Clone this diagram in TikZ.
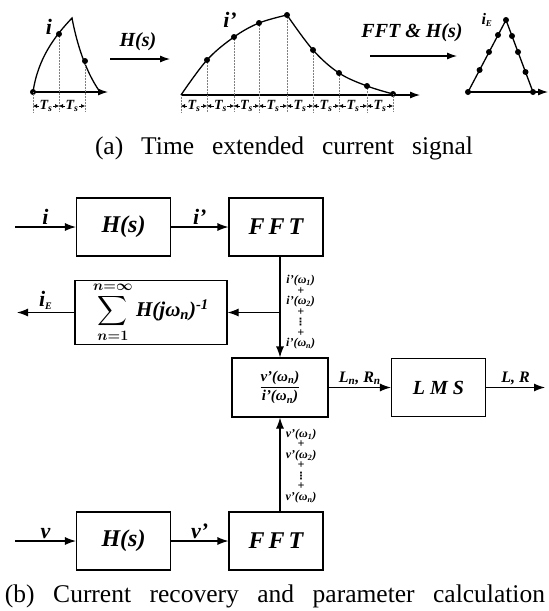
\documentclass[tikz,border=0pt]{standalone}
\usepackage{amsmath}
\usepackage{fontspec}
\setmainfont{Liberation Serif}
\newfontfamily\symfont{DejaVu Sans}
\usetikzlibrary{arrows.meta,positioning,calc}

\begin{document}
\begin{tikzpicture}[
    x=1pt, y=-1pt,
    blk/.style={draw, line width=1.1pt, minimum width=94pt, minimum height=58pt, inner sep=2pt, font=\fontsize{24}{28}\selectfont\bfseries\itshape},
    sig/.style={font=\fontsize{22}{24}\selectfont\bfseries\itshape, inner sep=2pt},
    lbl/.style={font=\fontsize{16}{18}\selectfont\bfseries\itshape, inner sep=2pt},
    flow/.style={-{Latex[length=11pt,width=8pt]}, line width=1.1pt},
    axis/.style={-{Latex[length=10pt,width=7pt]}, line width=1.1pt},
    wave/.style={line width=1.3pt},
    grid/.style={densely dotted, line width=0.5pt, gray},
    tsarr/.style={{Latex[length=4pt,width=4pt]}-{Latex[length=4pt,width=4pt]}, line width=0.5pt},
    tslab/.style={font=\fontsize{14}{14}\selectfont\bfseries\itshape, fill=white, inner sep=0.4pt},
    spec/.style={font=\fontsize{12}{10.5}\selectfont\bfseries\itshape, align=center, inner sep=0pt},
    captext/.style={font=\fontsize{25.5}{27}\selectfont, inner sep=0pt}
]
    \useasboundingbox (0,0) rectangle (549,611);

    % (a) original current samples
    \draw[axis] (33,92) -- (108,92);
    \draw[wave] (33,92) .. controls (38,58) and (55,36) .. (72,18)
                        .. controls (78,50) and (88,75) .. (100,92);
    \foreach \x/\y in {59/34, 85/61} {
        \draw[grid] (\x,\y) -- (\x,112);
    }
    \foreach \x/\y in {33/92, 59/34, 85/61} {
        \fill (\x,\y) circle (3pt);
    }
    \draw[grid] (33,92) -- (33,112);
    \foreach \a/\b in {33/59, 59/85} {
        \draw[tsarr] (\a,106) -- (\b,106);
        \node[tslab] (tsa\a) at ({(\a+\b)/2},106) {T\textsubscript{s}};
    }
    \node[sig] (ia) at (49,27) {i};

    % H(s) stretching
    \draw[axis] (110,59) -- (170,59);
    \node[lbl, font=\fontsize{20}{22}\selectfont\bfseries\itshape] (hsa) at (138,42) {H(s)};

    % (a) time extended signal
    \draw[axis] (181,95) -- (420,95);
    \draw[wave] plot[smooth, tension=0.6] coordinates {(181,95) (207,60) (234,37) (259,23) (287,15)};
    \draw[wave] plot[smooth, tension=0.6] coordinates {(287,15) (313,50) (339,73) (367,86) (393,94)};
    \foreach \x/\y in {207/60, 234/37, 259/23, 287/15, 313/50, 339/73, 367/86} {
        \draw[grid] (\x,\y) -- (\x,112);
    }
    \foreach \x/\y in {207/60, 234/37, 259/23, 287/15, 313/50, 339/73, 367/86, 393/94} {
        \fill (\x,\y) circle (3pt);
    }
    \draw[grid] (181,95) -- (181,112);
    \draw[grid] (393,94) -- (393,112);
    \foreach \a/\b in {181/207, 207/234, 234/259, 259/287, 287/313, 313/339, 339/367, 367/393} {
        \draw[tsarr] (\a,106) -- (\b,106);
        \node[tslab] (tsb\a) at ({(\a+\b)/2},106) {T\textsubscript{s}};
    }
    \node[sig] (ib) at (230,20) {i’};

    % FFT & H(s) recovery
    \draw[axis] (370,56) -- (457,56);
    \node[lbl, font=\fontsize{20}{22}\selectfont\bfseries\itshape] (ffta) at (412,33) {FFT \& H(s)};

    % (a) recovered current
    \draw[axis] (468,92) -- (548,92);
    \draw[wave] (468,92) -- (506,20) -- (533,92);
    \foreach \x/\y in {468/92, 479.6/70, 489/52, 498/35, 506/20, 512/36, 518/52, 525.5/72, 533/92} {
        \fill (\x,\y) circle (3pt);
    }
    \node[lbl] (iea) at (487,20) {i\textsubscript{\fontsize{9}{9}\selectfont E}};

    \node[captext] (capa) at (284,148) {\makebox[378pt][s]{(a) Time extended current signal}};

    % (b) blocks
    \node[blk] (hs1) at (123.5,227) {H(s)};
    \node[blk] (fft1) at (276,227) {F\,F\,T};
    \node[blk, minimum width=152pt, minimum height=59pt, font=\fontsize{21}{24}\selectfont\bfseries\itshape] (sum) at (151,312.5)
        {{\boldmath$\displaystyle\sum_{n=1}^{n=\infty}$}\,H(jω\textsubscript{n})\textsuperscript{-1}};
    \node[blk, minimum width=96pt, minimum height=59pt, font=\fontsize{15}{17}\selectfont\bfseries\itshape] (ratio) at (280,387.5)
        {$\displaystyle\frac{\mbox{v’(ω\textsubscript{n})}}{\mbox{i’(ω\textsubscript{n})}}$};
    \node[blk, font=\fontsize{20}{22}\selectfont\bfseries\itshape] (lms) at (438.5,387.5) {L M S};
    \node[blk] (hs2) at (123.5,541) {H(s)};
    \node[blk] (fft2) at (276,541) {F\,F\,T};

    \coordinate (iin) at (15,227);
    \coordinate (vin) at (15,541);
    \coordinate (ieout) at (17,312.5);
    \coordinate (lrout) at (545,387.5);
    \coordinate (br) at (ratio.north |- sum.east);

    % current path
    \draw[flow] (iin) -- node[sig, above] (il) {i} (hs1);
    \draw[flow] (hs1) -- node[sig, above] (ipl) {i’} (fft1);
    \draw[flow] (ratio.north |- fft1.south) -- (ratio.north);
    \draw[flow] (br) -- (sum.east);
    \draw[flow] (sum.west) -- node[sig, above] (iel) {i\textsubscript{\fontsize{10}{10}\selectfont E}} (ieout);
    \node[spec, right=6pt of br] (ispec) {i’(ω\textsubscript{1})\\+\\i’(ω\textsubscript{2})\\+\\{\symfont\fontsize{10}{10}\selectfont ⋮}\\+\\i’(ω\textsubscript{n})};

    % voltage path
    \draw[flow] (vin) -- node[sig, above] (vl) {v} (hs2);
    \draw[flow] (hs2) -- node[sig, above] (vpl) {v’} (fft2);
    \draw[flow] (ratio.south |- fft2.north) -- (ratio.south);
    \node[spec] (vspec) at (301,466) {v’(ω\textsubscript{1})\\+\\v’(ω\textsubscript{2})\\+\\{\symfont\fontsize{10}{10}\selectfont ⋮}\\+\\v’(ω\textsubscript{n})};

    % parameter estimation
    \draw[flow] (ratio) -- node[lbl, above] (lnrn) {L\textsubscript{n}, R\textsubscript{n}} (lms);
    \draw[flow] (lms) -- node[lbl, above] (lr) {L, R} (lrout);

    \node[captext] (capb) at (275,596) {\makebox[540pt][s]{(b) Current recovery and parameter calculation}};
\end{tikzpicture}
\end{document}
